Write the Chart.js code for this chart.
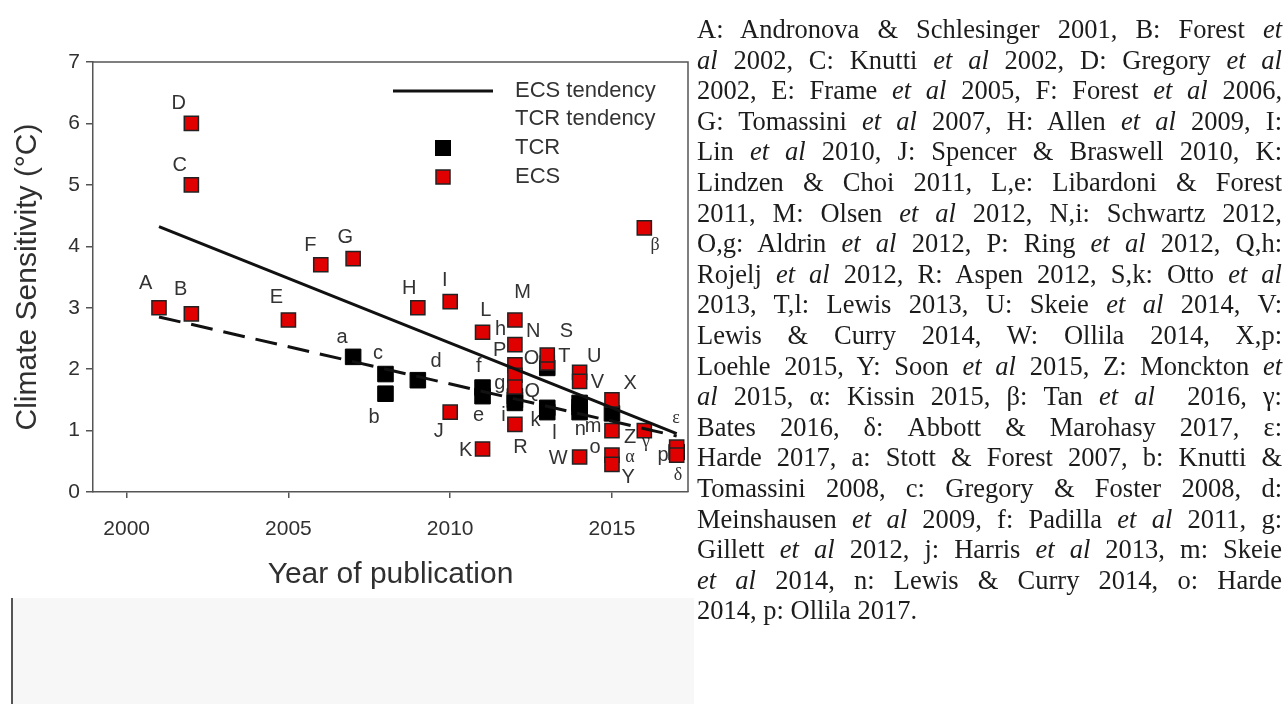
<!DOCTYPE html>
<html>
<head>
<meta charset="utf-8">
<script src="https://cdn.jsdelivr.net/npm/chart.js@4.4.0/dist/chart.umd.min.js"></script>
<style>
html, body { margin: 0; padding: 0; background: #fff; }
body { width: 1284px; height: 704px; position: relative; overflow: hidden; }
#band { position: absolute; left: 11px; top: 598px; width: 681px; height: 106px; background: #f7f7f7; border-left: 2px solid #555; }
#wrap { position: absolute; left: 0; top: 0; width: 700px; height: 600px; }
#refs { position: absolute; left: 697px; top: 14px; width: 585px; font-family: 'Liberation Serif', 'Times New Roman', serif; font-size: 26.5px; line-height: 30.6px; color: #1c1c1c; }
#refs div { text-align: justify; text-align-last: justify; white-space: nowrap; }
#refs div.last { text-align-last: left; }
#refs i { font-style: italic; }
</style>
</head>
<body>
<div id="band"></div>
<div id="wrap"><canvas id="chart"></canvas></div>
<div id="refs">
  <div>A: Andronova &amp; Schlesinger 2001, B: Forest <i>et</i></div>
  <div><i>al</i> 2002, C: Knutti <i>et al</i> 2002, D: Gregory <i>et al</i></div>
  <div>2002, E: Frame <i>et al</i> 2005, F: Forest <i>et al</i> 2006,</div>
  <div>G: Tomassini <i>et al</i> 2007, H: Allen <i>et al</i> 2009, I:</div>
  <div>Lin <i>et al</i> 2010, J: Spencer &amp; Braswell 2010, K:</div>
  <div>Lindzen &amp; Choi 2011, L,e: Libardoni &amp; Forest</div>
  <div>2011, M: Olsen <i>et al</i> 2012, N,i: Schwartz 2012,</div>
  <div>O,g: Aldrin <i>et al</i> 2012, P: Ring <i>et al</i> 2012, Q,h:</div>
  <div>Rojelj <i>et al</i> 2012, R: Aspen 2012, S,k: Otto <i>et al</i></div>
  <div>2013, T,l: Lewis 2013, U: Skeie <i>et al</i> 2014, V:</div>
  <div>Lewis &amp; Curry 2014, W: Ollila 2014, X,p:</div>
  <div>Loehle 2015, Y: Soon <i>et al</i> 2015, Z: Monckton <i>et</i></div>
  <div><i>al</i> 2015, α: Kissin 2015, β: Tan <i>et al</i> &nbsp;2016, γ:</div>
  <div>Bates 2016, δ: Abbott &amp; Marohasy 2017, ε:</div>
  <div>Harde 2017, a: Stott &amp; Forest 2007, b: Knutti &amp;</div>
  <div>Tomassini 2008, c: Gregory &amp; Foster 2008, d:</div>
  <div>Meinshausen <i>et al</i> 2009, f: Padilla <i>et al</i> 2011, g:</div>
  <div>Gillett <i>et al</i> 2012, j: Harris <i>et al</i> 2013, m: Skeie</div>
  <div><i>et al</i> 2014, n: Lewis &amp; Curry 2014, o: Harde</div>
  <div class="last">2014, p: Ollila 2017.</div>
</div>
<script>
// ===== DATA =====
const xTicks = [2000, 2005, 2010, 2015];
const yTicks = [0, 1, 2, 3, 4, 5, 6, 7];

// ECS (red squares)
const ecsNames  = ['A', 'B', 'C', 'D', 'E', 'F', 'G', 'H', 'I', 'J', 'K', 'L', 'M', 'N', 'P', 'O', 'Q', 'R', 'T', 'S', 'U', 'V', 'W', 'X', 'Z', 'α', 'Y', 'γ', 'β', 'ε', 'δ'];
const ecsYears  = [2001, 2002, 2002, 2002, 2005, 2006, 2007, 2009, 2010, 2010, 2011, 2011, 2012, 2012, 2012, 2012, 2012, 2012, 2013, 2013, 2014, 2014, 2014, 2015, 2015, 2015, 2015, 2016, 2016, 2017, 2017];
const ecsValues = [3.0, 2.9, 5.0, 6.0, 2.8, 3.7, 3.8, 3.0, 3.1, 1.3, 0.7, 2.6, 2.8, 2.4, 2.07, 1.9, 1.71, 1.1, 2.1, 2.23, 1.95, 1.8, 0.57, 1.5, 1.0, 0.6, 0.45, 1.0, 4.3, 0.73, 0.6];

// TCR (black squares)
const tcrNames  = ['a', 'c', 'b', 'd', 'f', 'e', 'h', 'g', 'i', 'j', 'k', 'l', 'm', 'o', 'n', 'p', 'p'];
const tcrYears  = [2007, 2008, 2008, 2009, 2011, 2011, 2012, 2012, 2012, 2013, 2013, 2013, 2014, 2014, 2014, 2015, 2017];
const tcrValues = [2.2, 1.92, 1.6, 1.82, 1.7, 1.56, 1.56, 1.5, 1.45, 2.02, 1.37, 1.3, 1.45, 1.38, 1.3, 1.28, 0.65];

// tendency lines (end points)
const trendYears = [2001, 2017];
const ecsTrend = [4.32, 0.95];
const tcrTrend = [2.85, 0.91];

// point label anchors, in data units
const labelText = ['A', 'B', 'C', 'D', 'E', 'F', 'G', 'H', 'I', 'J', 'K', 'L', 'M', 'h', 'N', 'P', 'O', 'S', 'T', 'U', 'V', 'X', 'Q', 'g', 'i', 'k', 'l', 'R', 'W', 'n', 'm', 'o', 'Z', 'γ', 'α', 'Y', 'β', 'ε', 'p', 'δ', 'a', 'b', 'c', 'd', 'e', 'f'];
const labelYear = [2000.59, 2001.67, 2001.64, 2001.61, 2004.63, 2005.68, 2006.76, 2008.73, 2009.83, 2009.65, 2010.48, 2011.10, 2012.24, 2011.56, 2012.57, 2011.53, 2012.51, 2013.59, 2013.53, 2014.45, 2014.55, 2015.56, 2012.54, 2011.53, 2011.65, 2012.64, 2013.22, 2012.17, 2013.34, 2014.02, 2014.42, 2014.48, 2015.56, 2016.05, 2015.56, 2015.50, 2016.33, 2016.98, 2016.58, 2017.04, 2006.66, 2007.65, 2007.77, 2009.56, 2010.88, 2010.88];
const labelValue = [3.39, 3.30, 5.32, 6.33, 3.17, 4.02, 4.14, 3.32, 3.45, 0.99, 0.67, 2.95, 3.24, 2.64, 2.62, 2.31, 2.18, 2.62, 2.21, 2.21, 1.79, 1.77, 1.64, 1.76, 1.25, 1.17, 0.96, 0.72, 0.55, 1.01, 1.06, 0.73, 0.88, 0.81, 0.57, 0.24, 4.02, 1.20, 0.60, 0.28, 2.52, 1.22, 2.26, 2.13, 1.25, 2.05];

const SANS = "Arial, 'Liberation Sans', sans-serif";
const SERIF = "'Liberation Serif', 'Times New Roman', serif";
const GREEK = 'αβγδε';

const ecsPoints = ecsYears.map((x, i) => ({ x, y: ecsValues[i] }));
const tcrPoints = tcrYears.map((x, i) => ({ x, y: tcrValues[i] }));

// labels, frame and the custom legend
const decorPlugin = {
    id: 'decor',
    beforeDatasetsDraw(chart) {
        const { ctx, scales: { x, y } } = chart;
        ctx.save();
        ctx.fillStyle = '#333';
        ctx.textAlign = 'center';
        ctx.textBaseline = 'middle';
        labelText.forEach((t, i) => {
            ctx.font = GREEK.includes(t) ? `18px ${SERIF}` : `20px ${SANS}`;
            ctx.fillText(t, x.getPixelForValue(labelYear[i]), y.getPixelForValue(labelValue[i]));
        });
        ctx.restore();
    },
    afterDraw(chart) {
        const { ctx, chartArea: a } = chart;
        ctx.save();
        ctx.strokeStyle = '#555';
        ctx.lineWidth = 1.5;
        ctx.beginPath();
        ctx.moveTo(a.left, a.top);
        ctx.lineTo(a.right, a.top);
        ctx.lineTo(a.right, a.bottom);
        ctx.stroke();

        // legend
        ctx.strokeStyle = '#111';
        ctx.lineWidth = 3;
        ctx.beginPath();
        ctx.moveTo(393, 91);
        ctx.lineTo(493, 91);
        ctx.stroke();
        ctx.fillStyle = '#000';
        ctx.fillRect(435, 140, 16, 16);
        ctx.fillStyle = '#e00000';
        ctx.fillRect(436, 170, 14, 14);
        ctx.strokeStyle = '#222';
        ctx.lineWidth = 1.5;
        ctx.strokeRect(436, 170, 14, 14);
        ctx.fillStyle = '#333';
        ctx.font = `22px ${SANS}`;
        ctx.textAlign = 'left';
        ctx.textBaseline = 'middle';
        ctx.fillText('ECS tendency', 515, 91);
        ctx.fillText('TCR tendency', 515, 119);
        ctx.fillText('TCR', 515, 148);
        ctx.fillText('ECS', 515, 177);
        ctx.restore();
    }
};

new Chart(document.getElementById('chart'), {
    type: 'scatter',
    data: {
        datasets: [
            {
                label: 'ECS tendency',
                data: trendYears.map((x, i) => ({ x, y: ecsTrend[i] })),
                showLine: true,
                borderColor: '#111',
                borderWidth: 3,
                pointRadius: 0,
                order: 0
            },
            {
                label: 'TCR tendency',
                data: trendYears.map((x, i) => ({ x, y: tcrTrend[i] })),
                showLine: true,
                borderColor: '#111',
                borderWidth: 3,
                borderDash: [22, 11],
                pointRadius: 0,
                order: 0
            },
            {
                label: 'ECS',
                data: ecsPoints,
                pointStyle: 'rect',
                pointRadius: 10,
                backgroundColor: '#e00000',
                borderColor: '#222',
                borderWidth: 1.5,
                order: 1
            },
            {
                label: 'TCR',
                data: tcrPoints,
                pointStyle: 'rect',
                pointRadius: 11,
                backgroundColor: '#000',
                borderColor: '#000',
                borderWidth: 1,
                order: 2
            }
        ]
    },
    options: {
        responsive: true,
        maintainAspectRatio: false,
        animation: false,
        events: [],
        layout: { padding: { top: 62, right: 6, left: 0, bottom: 0 } },
        plugins: { legend: { display: false }, tooltip: { enabled: false } },
        scales: {
            x: {
                type: 'linear',
                min: 1998.96,
                max: 2017.35,
                afterBuildTicks: s => { s.ticks = xTicks.map(v => ({ value: v })); },
                afterFit: s => { s.height = 108; },
                grid: { drawOnChartArea: false, drawTicks: true, tickLength: 6, color: '#555', lineWidth: 1.5 },
                border: { display: true, color: '#555', width: 1.5 },
                ticks: { color: '#303030', font: { family: SANS, size: 21 }, padding: 19, maxRotation: 0, callback: v => String(v) },
                title: { display: true, text: 'Year of publication', color: '#303030', font: { family: SANS, size: 30 }, padding: { top: 0, bottom: 7 } }
            },
            y: {
                min: 0,
                max: 7,
                afterBuildTicks: s => { s.ticks = yTicks.map(v => ({ value: v })); },
                afterFit: s => { s.width = 93; },
                grid: { drawOnChartArea: false, drawTicks: true, tickLength: 7, color: '#555', lineWidth: 1.5 },
                border: { display: true, color: '#555', width: 1.5 },
                ticks: { color: '#303030', font: { family: SANS, size: 21 }, padding: 6 },
                title: { display: true, text: 'Climate Sensitivity (°C)', color: '#303030', font: { family: SANS, size: 30 }, padding: { top: 10, bottom: 0 } }
            }
        }
    },
    plugins: [decorPlugin]
});
</script>
</body>
</html>
